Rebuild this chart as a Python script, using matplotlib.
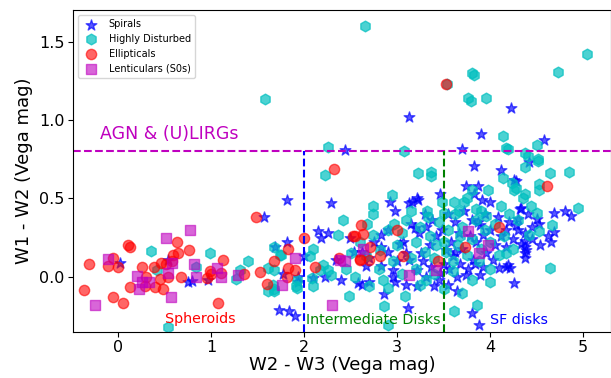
import matplotlib
matplotlib.use("Agg")
import matplotlib.pyplot as plt

# ---------------- data ----------------
# Spirals (stars)
spiral_x = [0.02, 0.54, 0.75, 0.79, 0.97,
            2.44, 3.13, 4.22, 3.90, 3.70, 4.58,
            4.42, 4.28, 4.69, 4.80, 4.87, 4.33, 4.30, 4.41, 4.45, 4.53, 4.69, 4.62, 4.66, 4.54,
            4.37, 4.37, 4.37, 4.37, 4.37, 4.33, 4.26,
            3.83, 3.46, 3.74, 3.87, 3.83, 4.12, 4.26, 3.16, 3.22, 4.00, 3.87, 3.88, 3.80, 3.12,
            4.17, 4.10, 4.19, 3.64, 3.89,
            1.81, 2.29, 1.57, 2.15, 2.26, 2.18, 1.69, 1.81, 1.77, 2.00, 2.34, 2.22, 2.10, 1.93,
            2.40, 2.58, 2.62, 2.86, 2.98, 1.93, 1.73, 1.84, 1.90, 2.92, 2.98, 2.83,
            3.13, 3.21, 3.91, 4.32, 2.90, 3.19, 3.31, 3.62, 3.89, 4.17, 4.28, 4.17, 4.21, 4.39,
            2.49, 2.54, 2.83, 3.03, 3.10, 3.13, 3.26, 3.53, 3.60, 3.82, 3.96, 4.03, 2.67, 2.83,
            2.95, 3.21, 3.31, 3.46, 3.64, 3.74, 2.70, 3.21, 3.40,
            3.30, 3.38, 3.48, 3.55, 3.58, 3.66, 3.70, 3.72, 3.78, 3.80, 3.85, 3.92, 3.95, 4.00,
            4.05, 4.08, 4.12, 4.20, 4.25, 3.35, 3.42, 3.50, 3.56, 3.62, 3.68, 3.76, 3.84, 3.92,
            3.00, 3.06, 2.90, 2.75, 2.62, 2.70, 3.15, 3.24, 3.28, 3.36, 3.45, 3.55, 2.95, 3.10,
            4.30, 4.45, 4.50]
spiral_y = [0.09, 0.11, -0.03, -0.024, -0.02,
            0.81, 1.02, 1.08, 0.91, 0.815, 0.87,
            0.73, 0.61, 0.41, 0.42, 0.39, 0.44, 0.37, 0.40, 0.32, 0.34, 0.285, 0.26, 0.225, 0.20,
            0.28, 0.23, 0.19, 0.15, 0.12, 0.21, -0.04,
            0.71, 0.53, 0.58, 0.58, 0.53, 0.68, 0.62, 0.48, 0.49, 0.48, 0.35, -0.31, -0.23, -0.20,
            0.065, 0.055, 0.077, -0.09, 0.013,
            0.49, 0.47, 0.38, 0.29, 0.28, 0.25, 0.19, 0.22, 0.02, 0.13, 0.11, 0.0, -0.01, -0.03,
            -0.02, -0.04, -0.05, -0.11, -0.03, 0.0, -0.21, -0.22, -0.25, 0.48, 0.42, 0.27,
            0.47, 0.50, 0.49, 0.43, 0.30, 0.31, 0.32, 0.35, 0.33, 0.30, 0.33, 0.19, 0.055, 0.17,
            0.25, 0.16, 0.19, 0.21, 0.15, 0.11, 0.15, 0.17, 0.13, 0.11, 0.15, 0.11, 0.066, 0.066,
            0.045, 0.045, 0.0, 0.024, 0.0, 0.013, -0.03, -0.06, -0.06,
            0.40, 0.36, 0.30, 0.40, 0.22, 0.28, 0.18, 0.42, 0.26, 0.36, 0.22, 0.27, 0.40, 0.30,
            0.20, 0.38, 0.26, 0.35, 0.24, 0.20, 0.26, 0.08, 0.05, 0.16, 0.08, 0.05, 0.08, 0.06,
            0.10, 0.22, 0.16, 0.22, 0.16, 0.12, 0.34, 0.28, 0.10, 0.06, -0.02, -0.05, 0.0, -0.05,
            0.30, 0.24, 0.37]

# Highly disturbed (hexagons)
disturbed_x = [2.65, 1.58, 2.26, 3.07, 3.54, 3.80, 3.83, 3.76, 3.79, 3.96, 4.14, 4.19, 4.37,
               4.41, 4.50, 4.51, 4.73, 5.04,
               4.51, 4.37, 4.64, 4.85, 4.53, 4.53, 4.37, 4.28, 4.94, 4.44, 4.50, 4.67, 4.53, 4.64,
               4.17, 3.22, 3.36, 3.36, 3.98, 4.14, 4.24, 4.26, 3.32, 3.50, 3.61, 3.72, 3.66, 3.85,
               3.96, 3.08, 3.86, 3.61, 4.00,
               2.22, 2.42, 2.74, 2.74, 2.68, 2.74, 2.36, 2.94, 2.97, 2.09, 2.06, 1.68, 1.75, 1.68,
               1.61, 2.20, 2.26, 2.09, 2.29, 2.70, 2.48, 2.90, 2.86, 1.61, 1.67, 1.91, 2.90, 2.17,
               2.08,
               0.35, 0.99, 1.40, 0.84, 0.42, 1.31, 1.27, 0.54,
               1.74, 1.66, 1.68, 1.92, 1.92, 3.80, 3.31, 4.17, 4.42, 2.67, 2.81,
               3.00, 3.05, 3.10, 3.15, 3.20, 3.25, 3.30, 3.35, 3.40, 3.45, 3.50, 3.55, 3.60, 3.65,
               3.70, 3.75, 3.80, 3.85, 3.90, 3.95, 4.00, 4.05, 4.10, 4.15, 4.20, 4.25, 4.30, 3.20,
               3.40, 3.60, 3.80, 3.25, 3.50, 3.70, 2.80, 2.90, 2.95, 2.60, 2.50, 2.45, 2.55, 2.85,
               3.05, 3.33, 3.62, 3.90, 4.00, 4.12, 4.35, 3.48, 3.75, 3.52, 3.68, 3.42, 3.15, 3.88]
disturbed_y = [1.60, 1.134, 0.83, 0.80, 1.23, 1.30, 1.29, 1.14, 1.12, 1.14, 0.90, 0.815, 0.79,
               0.77, 0.84, 0.75, 1.31, 1.42,
               0.74, 0.70, 0.66, 0.67, 0.59, 0.555, 0.53, 0.57, 0.44, 0.45, 0.41, 0.33, 0.29, 0.055,
               0.82, 0.66, 0.67, 0.645, 0.555, 0.63, 0.60, 0.555, 0.42, 0.41, 0.48, 0.48, 0.42, 0.43,
               0.385, -0.125, -0.18, -0.22, -0.03,
               0.65, 0.36, 0.45, 0.40, 0.34, 0.27, 0.27, 0.52, 0.34, 0.18, 0.13, 0.19, 0.14, 0.045,
               0.055, 0.077, 0.045, -0.06, 0.013, -0.06, -0.12, -0.07, -0.185, -0.09, -0.09, -0.06,
               -0.31, 0.045, -0.01,
               0.166, 0.15, 0.10, 0.06, 0.045, 0.045, -0.015, -0.32,
               0.14, -0.05, -0.08, -0.07, -0.02, 0.555, -0.02, 0.15, 0.27, 0.13, 0.17,
               0.20, 0.28, 0.36, 0.12, 0.22, 0.32, 0.16, 0.26, 0.12, 0.35, 0.22, 0.30, 0.10, 0.20,
               0.32, 0.14, 0.24, 0.36, 0.18, 0.30, 0.22, 0.34, 0.14, 0.26, 0.40, 0.18, 0.36, 0.05,
               0.02, 0.04, -0.02, -0.05, -0.08, -0.10, 0.05, 0.30, 0.10, 0.22, 0.15, 0.05, 0.00, -0.02,
               0.02, 0.38, 0.40, 0.42, 0.05, 0.45, 0.50, 0.48, 0.50, 0.16, 0.26, 0.20, 0.42, 0.10]

# Ellipticals (circles)
ell_x = [-0.37, -0.32, -0.11, -0.055, -0.055, 0.0, 0.05, 0.10, 0.125, 0.125, 0.26, 0.285, 0.30,
         0.38, 0.40, 0.45, 0.465, 0.48, 0.51, 0.54, 0.58, 0.59, 0.63, 0.645, 0.68, 0.76, 0.95,
         0.99, 1.0, 1.07, 1.11, 1.13, 1.35, 1.48, 1.52, 1.60, 1.67, 1.81, 1.83, 1.83, 1.90, 2.0,
         2.12, 2.32, 2.37, 2.52, 2.55, 2.60, 2.60, 2.61, 2.63, 2.70, 2.71, 2.82, 3.0, 3.06, 3.44,
         3.52, 3.73, 4.10, 4.61]
ell_y = [-0.087, 0.083, 0.066, 0.12, -0.13, 0.06, -0.17, 0.20, 0.19, -0.066, 0.06, -0.06, 0.0,
         0.06, -0.066, -0.015, 0.09, -0.077, 0.083, 0.0, 0.10, 0.14, 0.225, 0.15, 0.0, 0.17, -0.01,
         0.04, 0.02, -0.17, 0.024, 0.11, 0.02, 0.38, 0.03, -0.045, 0.10, 0.0, 0.18, 0.055, 0.045,
         0.25, 0.06, 0.69, 0.12, 0.26, 0.26, 0.115, 0.11, 0.33, 0.275, 0.11, 0.19, 0.13, 0.30, 0.13,
         0.10, 1.23, 0.19, 0.32, 0.58]

# Lenticulars (squares)
s0_x = [-0.245, -0.11, 0.20, 0.22, 0.26, 0.33, 0.51, 0.54, 0.57, 0.58, 0.77, 0.82, 0.84, 1.06,
        1.10, 1.29, 1.76, 1.905, 2.30, 2.38, 2.435, 2.63, 3.13, 3.42, 3.76, 3.88, 3.98]
s0_y = [-0.18, 0.115, 0.006, -0.08, -0.03, -0.03, 0.25, 0.024, -0.13, 0.09, 0.30, 0.083, 0.0,
        0.055, 0.0, 0.013, -0.05, 0.12, -0.18, 0.11, 0.10, 0.18, 0.01, 0.045, 0.29, 0.15, 0.20]

x_ticks = [0, 1, 2, 3, 4, 5]
y_ticks = [0.0, 0.5, 1.0, 1.5]

agn_limit = 0.8
spheroid_limit = 2.0
sf_limit = 3.5

# ---------------- plot ----------------
fig = plt.figure(figsize=(6.11, 3.78), dpi=100)
ax = fig.add_axes([0.119, 0.1225, 0.881, 0.85])

ax.scatter(spiral_x, spiral_y, marker='*', s=65, c='b', alpha=0.65, label='Spirals')
ax.scatter(disturbed_x, disturbed_y, marker='h', s=60, c='c', alpha=0.7, label='Highly Disturbed')
ax.scatter(ell_x, ell_y, marker='o', s=55, c='r', alpha=0.6, label='Ellipticals')
ax.scatter(s0_x, s0_y, marker='s', s=50, c='m', alpha=0.6, label='Lenticulars (S0s)')

ax.set_xlim(-0.49, 5.3)
ax.set_ylim(-0.35, 1.70)
ax.set_xticks(x_ticks)
ax.set_yticks(y_ticks)

ax.axhline(agn_limit, color='m', ls='--', lw=1.5)
ax.plot([spheroid_limit, spheroid_limit], [-0.35, agn_limit], color='b', ls='--', lw=1.5)
ax.plot([sf_limit, sf_limit], [-0.35, agn_limit], color='g', ls='--', lw=1.5)

ax.text(-0.2, 0.88, 'AGN & (U)LIRGs', color='m', fontsize=12.5)
ax.text(0.5, -0.295, 'Spheroids', color='r', fontsize=10.3)
ax.text(2.02, -0.30, 'Intermediate Disks', color='g', fontsize=10.3)
ax.text(4.0, -0.30, 'SF disks', color='b', fontsize=10.3)

ax.set_xlabel('W2 - W3 (Vega mag)', fontsize=13, labelpad=1)
ax.set_ylabel('W1 - W2 (Vega mag)', fontsize=13)
ax.tick_params(labelsize=11.5, pad=2.5)
ax.legend(loc='upper left', fontsize=7)

fig.savefig('out.png', dpi=100)
